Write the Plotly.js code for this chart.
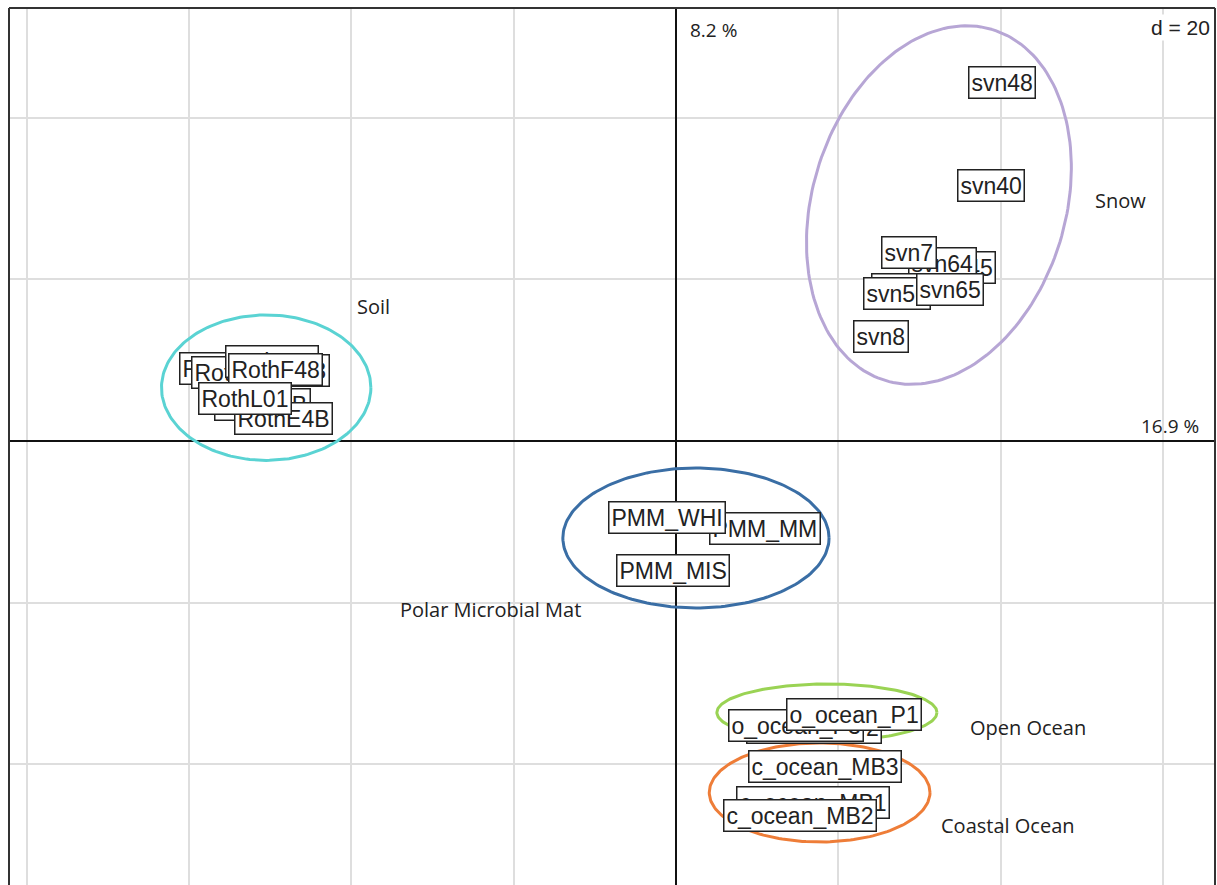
<!DOCTYPE html>
<html>
<head>
<meta charset="utf-8">
<script src="https://cdn.plot.ly/plotly-3.0.1.min.js"></script>
<style>html,body{margin:0;padding:0;background:#fff}#chart{width:1217px;height:885px}</style>
</head>
<body>
<div id="chart"></div>
<script>
// Sample labels (drawn in this order; later ones on top)
const sampleNames = [
  "RothE01","RothF01","RothL48","RothL4B","RothE4B","RothE48","RothF48","RothL01",
  "svn48","svn40","svn45","svn64","svn7","svn57","svn56","svn65","svn8",
  "PMM_MM","PMM_WHI","PMM_MIS",
  "o_ocean_P2","o_ocean_P3","o_ocean_P1",
  "c_ocean_MB3","c_ocean_MB1","c_ocean_MB2"
];
const sampleX = [
  -55.3,-53.9,-49.8,-51.0,-48.4,-48.6,-49.3,-53.1,
  40.2,38.8,35.2,32.9,28.7,28.2,27.2,33.8,25.3,
  11.0,-1.1,-0.4,
  17.0,14.8,21.9,
  18.4,16.9,15.3
];
const sampleY = [
  9.0,8.5,9.9,4.5,2.8,8.7,8.8,5.3,
  44.4,31.6,21.5,22.0,23.3,18.8,18.2,18.7,12.9,
  -10.8,-9.5,-16.0,
  -35.4,-35.2,-33.8,
  -40.3,-44.7,-46.4
];

// Groups: ellipse centre, semi-axes, rotation (deg from x axis)
const groupNames = ["Soil","Snow","Polar Microbial Mat","Open Ocean","Coastal Ocean"];
const groupCX = [-50.5, 32.4, 2.46, 18.6, 17.7];
const groupCY = [6.6, 29.2, -12.0, -33.6, -43.5];
const groupA = [12.9, 22.7, 16.4, 13.56, 13.6];
const groupB = [9.0, 15.6, 8.66, 3.53, 6.13];
const groupAngle = [0, 73.1, 0, 0, 0];
const groupLabelX = [-37.3, 54.8, -22.8, 43.4, 40.9];
const groupLabelY = [16.6, 29.8, -20.9, -35.4, -47.6];
const groupColors = ["#5ad3d3","#b7a6d5","#3a6ea5","#9ad354","#ee7d38"];

// axis tick values (d = 20 grid)
const xTicks = [-80,-60,-40,-20,0,20,40,60];
const yTicks = [-40,-20,0,20,40];

const traces = [];
for (let g = 0; g < groupNames.length; g++) {
  const xs = [], ys = [];
  const t = groupAngle[g] * Math.PI / 180;
  for (let i = 0; i <= 200; i++) {
    const p = 2 * Math.PI * i / 200;
    const u = groupA[g] * Math.cos(p), v = groupB[g] * Math.sin(p);
    xs.push(groupCX[g] + u * Math.cos(t) - v * Math.sin(t));
    ys.push(groupCY[g] + u * Math.sin(t) + v * Math.cos(t));
  }
  traces.push({x: xs, y: ys, mode: "lines", type: "scatter",
    line: {color: groupColors[g], width: 3}, hoverinfo: "skip", showlegend: false});
}

const annotations = [];
for (let i = 0; i < sampleNames.length; i++) {
  annotations.push({x: sampleX[i], y: sampleY[i], xref: "x", yref: "y", text: sampleNames[i],
    showarrow: false, font: {family: "Liberation Sans, Arial, sans-serif", size: 23, color: "#222"},
    bgcolor: "#ffffff", bordercolor: "#222", borderwidth: 1.5, borderpad: 2});
}
for (let g = 0; g < groupNames.length; g++) {
  annotations.push({x: groupLabelX[g], y: groupLabelY[g], xref: "x", yref: "y", text: groupNames[g],
    showarrow: false, font: {family: "Open Sans, sans-serif", size: 20, color: "#222"}});
}
annotations.push({x: 0, y: 1, xref: "x", yref: "paper", xanchor: "left", yanchor: "top", xshift: 12, yshift: -7,
  text: "8.2 %", showarrow: false, font: {family: "Open Sans, sans-serif", size: 19, color: "#222"}});
annotations.push({x: 1, y: 0, xref: "paper", yref: "y", xanchor: "right", yanchor: "bottom", xshift: -14, yshift: 0,
  text: "16.9 %", showarrow: false, font: {family: "Open Sans, sans-serif", size: 19, color: "#222"}});
annotations.push({x: 1, y: 1, xref: "paper", yref: "paper", xanchor: "right", yanchor: "top", xshift: -3, yshift: -6,
  text: "d = 20", showarrow: false, bgcolor: "#ffffff",
  font: {family: "Liberation Sans, Arial, sans-serif", size: 21, color: "#222"}});

const layout = {
  width: 1217, height: 885,
  margin: {l: 9, r: 2, t: 8, b: 0},
  paper_bgcolor: "#ffffff", plot_bgcolor: "#ffffff",
  showlegend: false,
  xaxis: {range: [-82.19, 66.42], tickvals: xTicks, showticklabels: false, ticks: "",
    showgrid: true, gridcolor: "#dedede", gridwidth: 2,
    zeroline: true, zerolinecolor: "#111", zerolinewidth: 1.5, showline: false, fixedrange: true},
  yaxis: {range: [-54.95, 53.59], tickvals: yTicks, showticklabels: false, ticks: "",
    showgrid: true, gridcolor: "#dedede", gridwidth: 2,
    zeroline: true, zerolinecolor: "#111", zerolinewidth: 1.5, showline: false, fixedrange: true},
  annotations: annotations,
  shapes: [
    {type: "line", xref: "paper", yref: "paper", x0: 0, x1: 0, y0: 0, y1: 1, line: {color: "#333", width: 2}},
    {type: "line", xref: "paper", yref: "paper", x0: 0, x1: 1, y0: 1, y1: 1, line: {color: "#333", width: 2}},
    {type: "line", xref: "paper", yref: "paper", x0: 1, x1: 1, y0: 0, y1: 1, line: {color: "#333", width: 2}}
  ]
};

Plotly.newPlot("chart", traces, layout, {displayModeBar: false, staticPlot: true});
</script>
</body>
</html>
